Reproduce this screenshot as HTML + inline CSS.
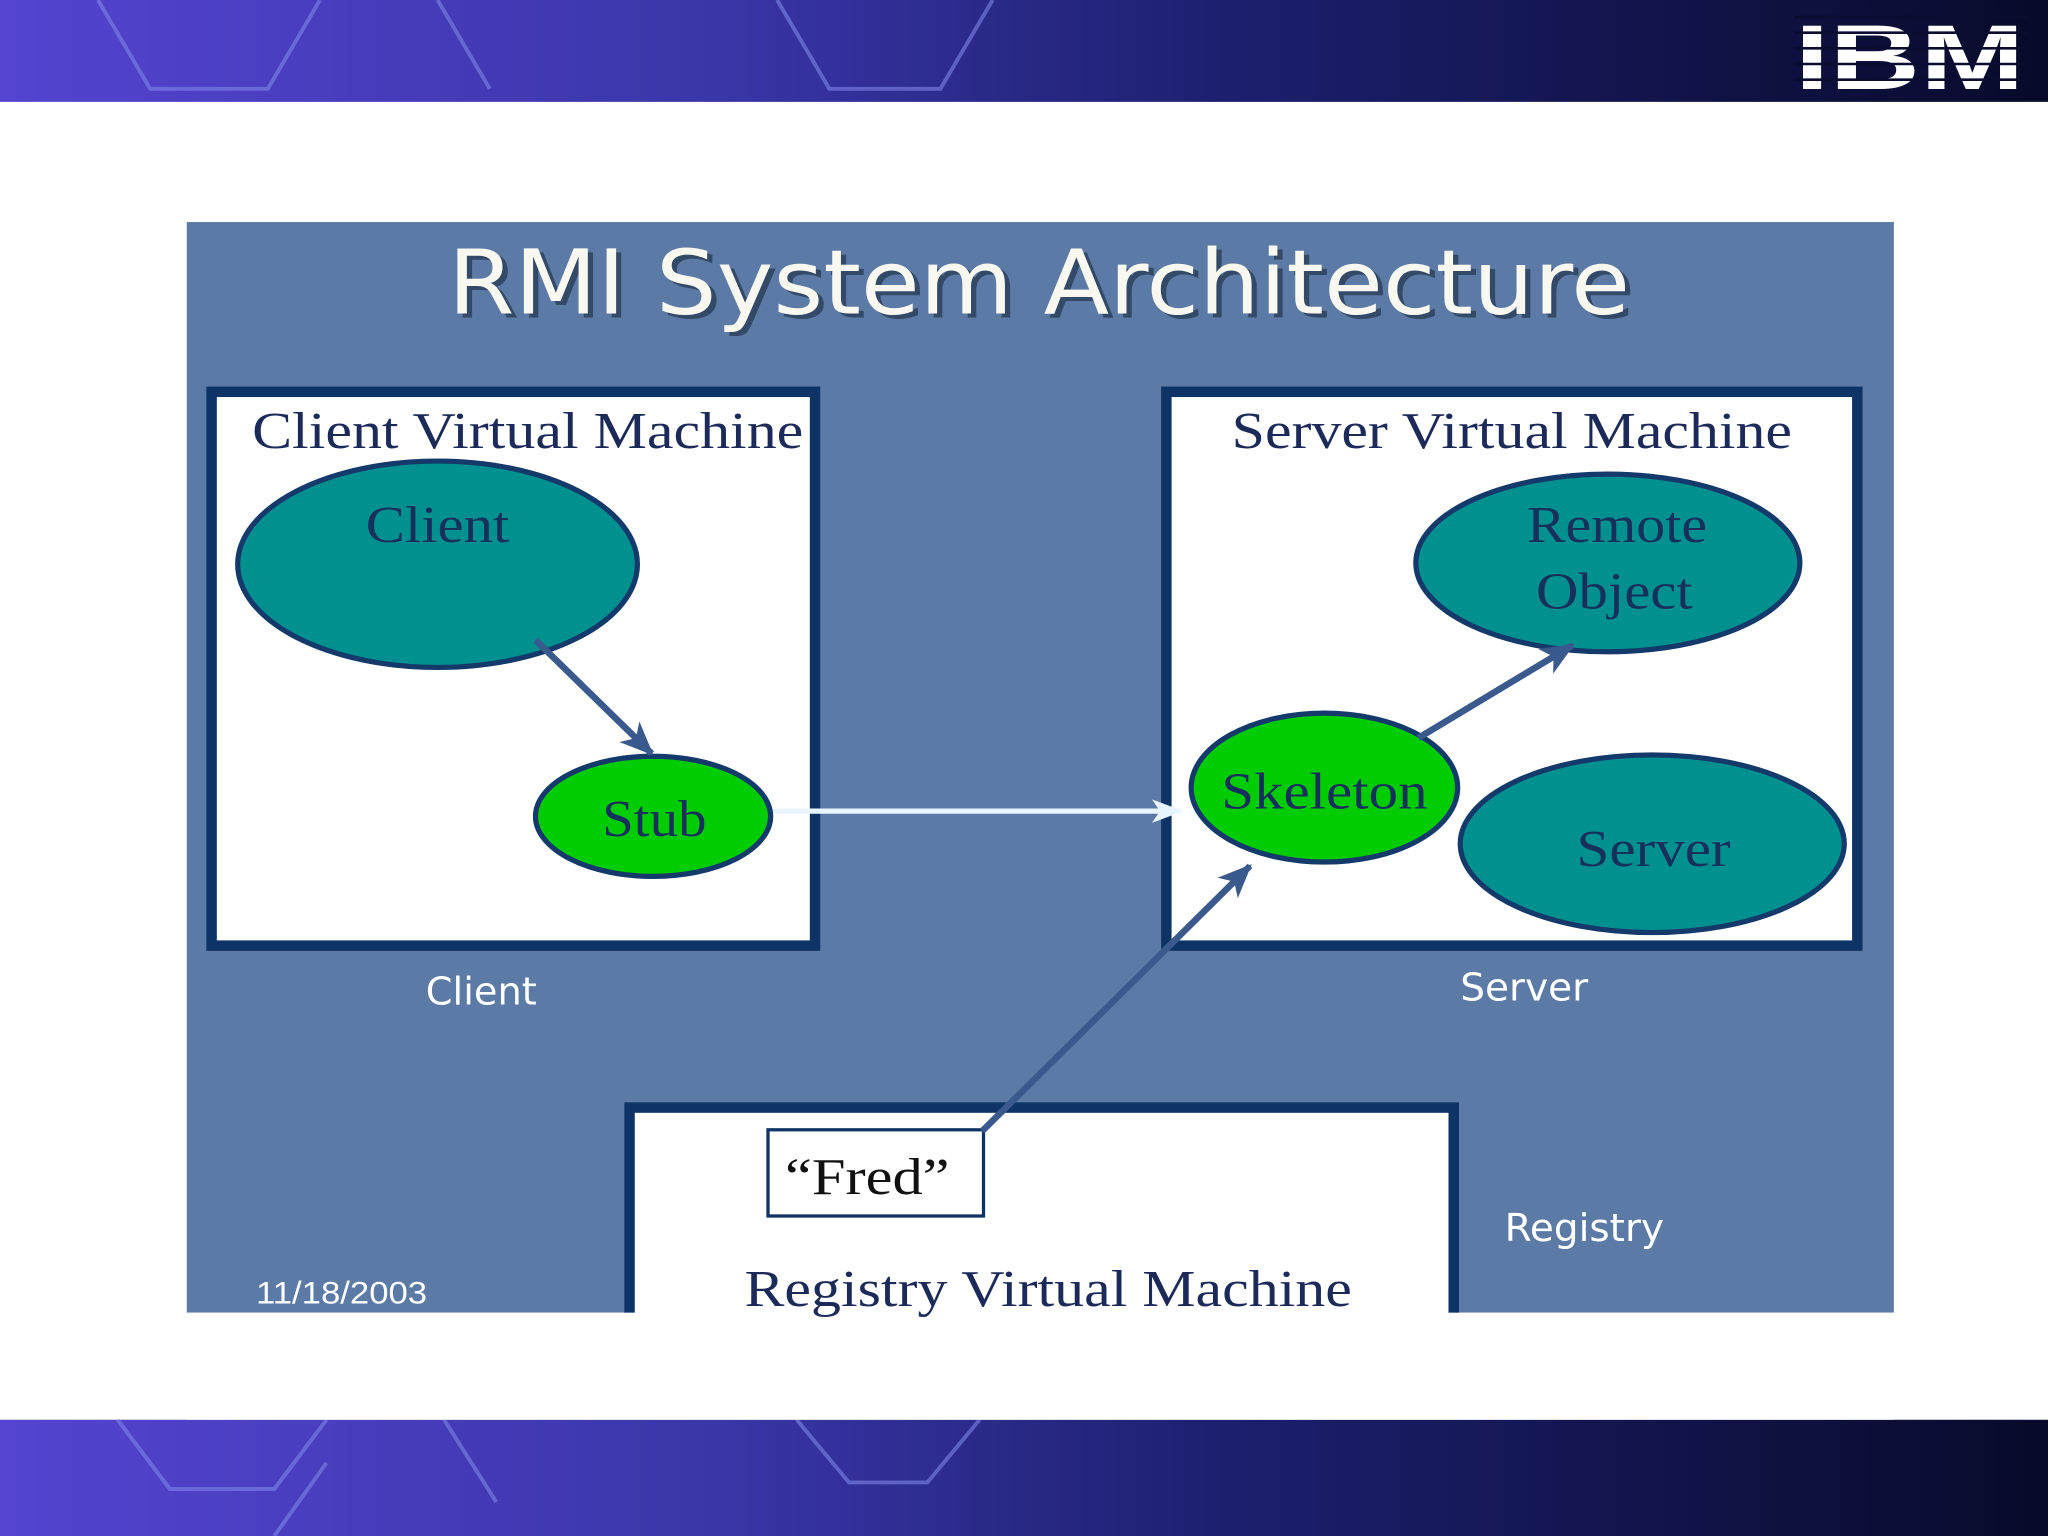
<!DOCTYPE html>
<html><head><style>html,body{margin:0;padding:0;background:#fff}svg{display:block}</style></head>
<body>
<svg width="2048" height="1536" viewBox="0 0 1568 1176" preserveAspectRatio="none" xmlns="http://www.w3.org/2000/svg">
<defs>
<linearGradient id="bar" x1="0" x2="1" y1="0" y2="0">
<stop offset="0" stop-color="#5444d0"/><stop offset="0.35" stop-color="#3a36a8"/><stop offset="0.6" stop-color="#1c1f6e"/><stop offset="1" stop-color="#080a2a"/>
</linearGradient>
<marker id="ar" markerWidth="26" markerHeight="22" refX="24" refY="11" orient="auto" markerUnits="userSpaceOnUse">
<path d="M0,0 L26,11 L0,22 L7,11 z" fill="#3a5a8e"/></marker>
<marker id="arw" markerWidth="24" markerHeight="18" refX="22" refY="9" orient="auto" markerUnits="userSpaceOnUse">
<path d="M0,0 L24,9 L0,18 L6,9 z" fill="#e8f4ff"/></marker>
</defs>
<rect x="0" y="0" width="1568" height="78" fill="url(#bar)"/>
<g stroke="#7f86e6" stroke-width="3" fill="none" opacity="0.6">
<path d="M75,0 L115,68 L205,68 L245,0"/><path d="M335,0 L375,68"/><path d="M595,0 L635,68 L720,68 L760,0"/>
</g>
<g fill="#fff" font-family="Liberation Sans, sans-serif" font-weight="bold" font-size="70">
<text x="1374" y="68" textLength="176" lengthAdjust="spacingAndGlyphs">IBM</text></g>
<g stroke="#0a0c30" stroke-width="2"><line x1="1374" y1="13" x2="1552" y2="13"/><line x1="1374" y1="25" x2="1552" y2="25"/><line x1="1374" y1="37" x2="1552" y2="37"/><line x1="1374" y1="49" x2="1552" y2="49"/><line x1="1374" y1="61" x2="1552" y2="61"/></g>
<rect x="0" y="1087" width="1568" height="89" fill="url(#bar)"/>
<g stroke="#7f86e6" stroke-width="3" fill="none" opacity="0.6">
<path d="M90,1087 L130,1140 L210,1140 L250,1087"/><path d="M210,1176 L250,1120"/><path d="M340,1087 L380,1150"/><path d="M610,1087 L650,1135 L710,1135 L750,1087"/>
</g>
<rect x="143" y="170" width="1307" height="835" fill="#5b7aa5"/>
<text x="347" y="243" font-family="DejaVu Sans, sans-serif" font-size="68" fill="#1a2a40" opacity="0.6" textLength="905" lengthAdjust="spacingAndGlyphs">RMI System Architecture</text>
<text x="343" y="240" font-family="DejaVu Sans, sans-serif" font-size="68" fill="#f8f8f0" textLength="905" lengthAdjust="spacingAndGlyphs">RMI System Architecture</text>
<rect x="162" y="300" width="462" height="424" fill="#fff" stroke="#0d3464" stroke-width="8"/>
<rect x="893" y="300" width="529" height="424" fill="#fff" stroke="#0d3464" stroke-width="8"/>
<rect x="482" y="848" width="631" height="170" fill="#fff" stroke="#0d3464" stroke-width="8"/>
<rect x="143" y="1005" width="1307" height="82" fill="#fff"/>
<g font-family="Liberation Serif, serif" font-size="40" fill="#1c2a5a" lengthAdjust="spacingAndGlyphs">
<text x="193" y="343" textLength="422" lengthAdjust="spacingAndGlyphs">Client Virtual Machine</text>
<text x="943" y="343" textLength="429" lengthAdjust="spacingAndGlyphs">Server Virtual Machine</text>
<text x="570" y="1000" textLength="465" lengthAdjust="spacingAndGlyphs">Registry Virtual Machine</text>
</g>
<g stroke="#133a6a" stroke-width="4">
<ellipse cx="335" cy="432" rx="153" ry="79" fill="#009090"/>
<ellipse cx="500" cy="625" rx="90" ry="46" fill="#00cc00"/>
<ellipse cx="1231" cy="431" rx="147" ry="68" fill="#009090"/>
<ellipse cx="1014" cy="603" rx="102" ry="57" fill="#00cc00"/>
<ellipse cx="1265" cy="646" rx="147" ry="68" fill="#009090"/>
</g>
<g font-family="Liberation Serif, serif" font-size="40" fill="#16305c" text-anchor="middle">
<text x="335" y="415" textLength="110" lengthAdjust="spacingAndGlyphs">Client</text>
<text x="501" y="640" textLength="80" lengthAdjust="spacingAndGlyphs">Stub</text>
<text x="1238" y="415" textLength="138" lengthAdjust="spacingAndGlyphs">Remote</text>
<text x="1236" y="466" textLength="120" lengthAdjust="spacingAndGlyphs">Object</text>
<text x="1014" y="619" textLength="158" lengthAdjust="spacingAndGlyphs">Skeleton</text>
<text x="1266" y="663" textLength="118" lengthAdjust="spacingAndGlyphs">Server</text>
</g>
<rect x="588" y="865" width="165" height="66" fill="#fff" stroke="#0d3464" stroke-width="2.5"/>
<text x="601" y="914" font-family="Liberation Serif, serif" font-size="40" fill="#111" textLength="126" lengthAdjust="spacingAndGlyphs">“Fred”</text>
<g stroke="#3a5a8e" stroke-width="5" fill="none">
<line x1="410" y1="490" x2="499" y2="577" marker-end="url(#ar)"/>
<line x1="1086" y1="565" x2="1204" y2="494" marker-end="url(#ar)"/>
<line x1="752" y1="866" x2="957" y2="663" marker-end="url(#ar)"/>
</g>
<line x1="592" y1="621" x2="904" y2="621" stroke="#e8f4ff" stroke-width="4" marker-end="url(#arw)"/>
<g font-family="DejaVu Sans, sans-serif" font-size="29" fill="#fff">
<text x="326" y="769" textLength="85" lengthAdjust="spacingAndGlyphs">Client</text>
<text x="1118" y="766" textLength="98" lengthAdjust="spacingAndGlyphs">Server</text>
<text x="1152" y="950" textLength="122" lengthAdjust="spacingAndGlyphs">Registry</text>
<text x="196" y="998" font-family="Liberation Sans, sans-serif" font-size="24" textLength="131" lengthAdjust="spacingAndGlyphs">11/18/2003</text>
</g>
</svg>
</body></html>
